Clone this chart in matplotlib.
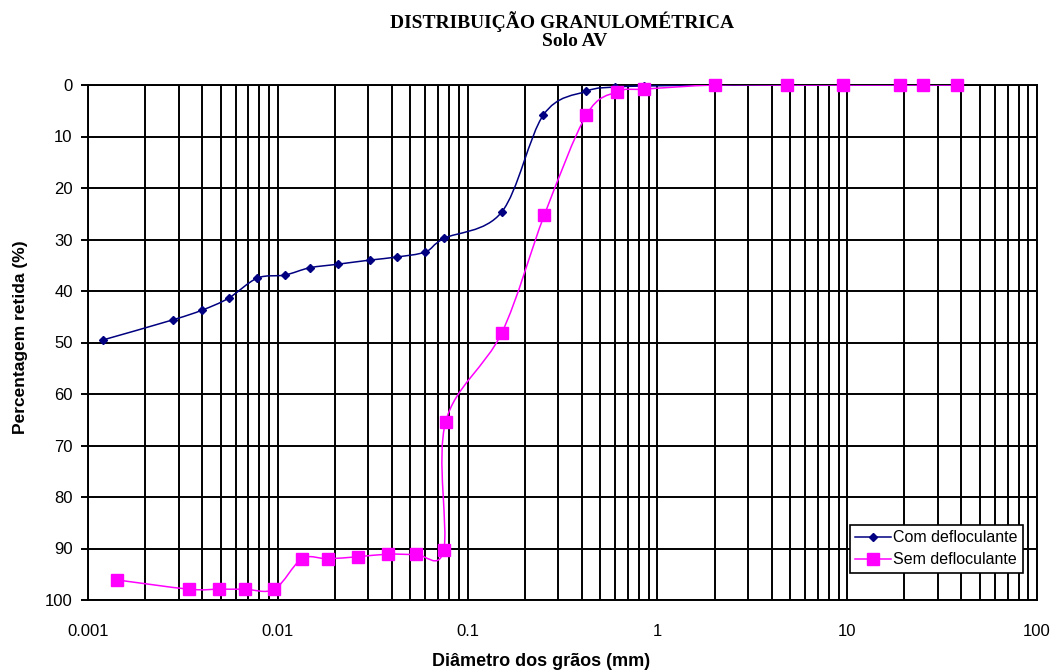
import numpy as np
import matplotlib
matplotlib.use("Agg")
import matplotlib.pyplot as plt
from matplotlib.path import Path
from matplotlib.patches import PathPatch
from matplotlib.lines import Line2D
from matplotlib.ticker import FixedLocator, LogLocator, NullFormatter

# ---- data ----
com_diam = [0.0012, 0.0028, 0.0040, 0.0055, 0.0078, 0.0109, 0.0147, 0.0207,
            0.0305, 0.0423, 0.060, 0.075, 0.151, 0.251, 0.423, 0.60, 0.85,
            2.0, 4.8, 9.5, 19.0, 25.0, 38.0]
com_ret = [49.5, 45.6, 43.7, 41.4, 37.5, 36.9, 35.5, 34.8,
           34.0, 33.4, 32.4, 29.8, 24.7, 5.8, 1.2, 0.4, 0.2,
           0.0, 0.0, 0.0, 0.0, 0.0, 0.0]

sem_diam = [0.00142, 0.0034, 0.0049, 0.0067, 0.0096, 0.0134, 0.0183, 0.0264,
            0.0379, 0.0532, 0.0748, 0.0766, 0.151, 0.254, 0.423, 0.615, 0.855,
            2.0, 4.8, 9.5, 19.0, 25.0, 38.0]
sem_ret = [96.1, 97.9, 97.9, 97.9, 97.9, 92.0, 92.0, 91.6,
           91.1, 91.1, 90.3, 65.4, 48.2, 25.2, 5.8, 1.3, 0.8,
           0.0, 0.0, 0.0, 0.0, 0.0, 0.0]

title_line1 = "DISTRIBUIÇÃO GRANULOMÉTRICA"
title_line2 = "Solo AV"
xlabel = "Diâmetro dos grãos (mm)"
ylabel = "Percentagem retida (%)"
x_ticks = [0.001, 0.01, 0.1, 1, 10, 100]
x_ticklabels = ["0.001", "0.01", "0.1", "1", "10", "100"]
y_ticks = list(range(0, 101, 10))
labels = ["Com defloculante", "Sem defloculante"]

NAVY = "#000080"
MAGENTA = "#FF00FF"


def smooth_path(xs, ys):
    """Excel-like smoothed line: Catmull-Rom Bezier in (log x, y) space."""
    lx = np.log10(np.asarray(xs, float))
    y = np.asarray(ys, float)
    P = np.column_stack([lx, y])
    n = len(P)
    verts = [P[0]]
    codes = [Path.MOVETO]
    for i in range(n - 1):
        p0 = P[i - 1] if i > 0 else P[i]
        p1 = P[i]
        p2 = P[i + 1]
        p3 = P[i + 2] if i + 2 < n else P[i + 1]
        c1 = p1 + (p2 - p0) / 6.0
        c2 = p2 - (p3 - p1) / 6.0
        verts += [c1, c2, p2]
        codes += [Path.CURVE4] * 3
    V = np.array(verts)
    V[:, 0] = 10 ** V[:, 0]
    return Path(V, codes)


plt.rcParams['font.family'] = ['Liberation Sans', 'DejaVu Sans']

W, H = 1056, 670
fig = plt.figure(figsize=(W / 100, H / 100), dpi=100)
ax = fig.add_axes([88 / W, 1 - 600 / H, (1037 - 88) / W, (600 - 85) / H])

ax.set_xscale('log')
ax.set_xlim(0.001, 100)
ax.set_ylim(100, 0)

ax.xaxis.set_major_locator(FixedLocator(x_ticks))
ax.set_xticklabels(x_ticklabels)
ax.xaxis.set_minor_locator(LogLocator(base=10, subs=np.arange(2, 10)))
ax.xaxis.set_minor_formatter(NullFormatter())
ax.set_yticks(y_ticks)

ax.grid(True, which='both', axis='x', color='black', linewidth=1.4)
ax.grid(True, which='major', axis='y', color='black', linewidth=1.4)
ax.set_axisbelow(True)
for s in ax.spines.values():
    s.set_color('black')
    s.set_linewidth(1.4)
ax.tick_params(axis='x', which='both', length=0, labelsize=12, pad=17)
ax.tick_params(axis='y', which='both', direction='out', length=5, width=1.4,
               labelsize=12, pad=6)

# smoothed lines
ax.add_patch(PathPatch(smooth_path(com_diam, com_ret), facecolor='none',
                       edgecolor=NAVY, linewidth=1.1, zorder=3))
ax.add_patch(PathPatch(smooth_path(sem_diam, sem_ret), facecolor='none',
                       edgecolor=MAGENTA, linewidth=1.1, zorder=4))
ax.plot(com_diam, com_ret, linestyle='none', marker='D', markersize=4,
        color=NAVY, zorder=3, clip_on=False)
ax.plot(sem_diam, sem_ret, linestyle='none', marker='s', markersize=8,
        color=MAGENTA, zorder=4, clip_on=False)

ax.set_xlabel(xlabel, fontsize=13, fontweight='bold')
ax.xaxis.set_label_coords((541 - 88) / (1037 - 88), (600 - 661) / 515)
ax.xaxis.label.set_va('center')
ax.set_ylabel(ylabel, fontsize=12.5, fontweight='bold')
ax.yaxis.set_label_coords((21 - 88) / (1037 - 88), (600 - 337) / 515)
ax.yaxis.label.set_va('center')

fig.text(562 / W, 1 - 28 / H, title_line1, ha='center', va='baseline',
         fontsize=14, fontweight='bold', family=['Liberation Serif'])
fig.text(575 / W, 1 - 46 / H, title_line2, ha='center', va='baseline',
         fontsize=14, fontweight='bold', family=['Liberation Serif'])

handles = [Line2D([], [], color=NAVY, marker='D', markersize=4, linewidth=1.1),
           Line2D([], [], color=MAGENTA, marker='s', markersize=8, linewidth=1.1)]
leg = ax.legend(handles, labels, loc='lower right',
                bbox_to_anchor=(1023 / W, 1 - 573 / H),
                bbox_transform=fig.transFigure, fontsize=11.5, frameon=True,
                fancybox=False, edgecolor='black', framealpha=1,
                handlelength=2.2, handletextpad=0.15, borderpad=0.35,
                labelspacing=0.45, borderaxespad=0)
leg.get_frame().set_linewidth(1.2)
leg.set_zorder(10)

fig.savefig("out.png", dpi=100)
